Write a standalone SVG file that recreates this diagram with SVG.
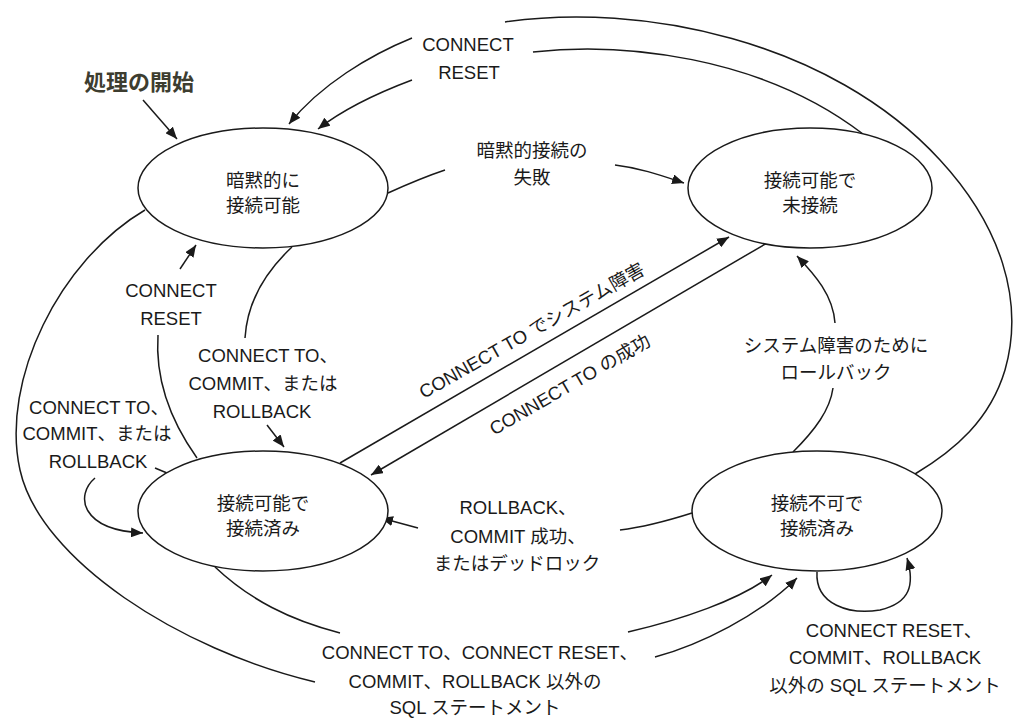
<svg xmlns="http://www.w3.org/2000/svg" width="1015" height="719" viewBox="0 0 1015 719">
<style>
.n{fill:#fff;stroke:#1a1a1a;stroke-width:1.5}
.c{fill:none;stroke:#1a1a1a;stroke-width:1.5}
text{font-family:"Liberation Sans","Noto Sans CJK JP",sans-serif;font-size:18.5px;fill:#1a1a1a;text-anchor:middle}
.s{font-size:22px;font-weight:bold;fill:#3d3d30;text-anchor:start}
</style>
<defs>
<marker id="a" viewBox="0 0 12 10" refX="12" refY="5" markerWidth="12" markerHeight="10" markerUnits="userSpaceOnUse" orient="auto"><path d="M0,0 L12,5 L0,10 z" fill="#1a1a1a"/></marker>
</defs>
<rect width="1015" height="719" fill="#fff"/>
<g id="connectors">
<path class="c" d="M143 100 L177 139" marker-end="url(#a)"/>
<path class="c" d="M505 22 C640 2 830 40 940 160 C1000 225 1025 300 1005 370 C990 420 955 450 915 474"/>
<path class="c" d="M412 38 C370 55 320 85 289 124" marker-end="url(#a)"/>
<path class="c" d="M533 52 C620 42 760 55 863 134"/>
<path class="c" d="M412 80 C380 92 345 108 318 129" marker-end="url(#a)"/>
<path class="c" d="M388 193 C410 183 430 175 445 170"/>
<path class="c" d="M615 165 C640 168 660 175 684 183" marker-end="url(#a)"/>
<path class="c" d="M145 210 C60 260 0 380 20 470 C40 560 180 650 315 682"/>
<path class="c" d="M655 657 C700 645 760 615 797 578" marker-end="url(#a)"/>
<path class="c" d="M215 567 C250 600 290 620 340 633"/>
<path class="c" d="M628 632 C680 620 740 600 772 575" marker-end="url(#a)"/>
<path class="c" d="M292 247 C262 275 247 305 245 338"/>
<path class="c" d="M267 425 L284 447" marker-end="url(#a)"/>
<path class="c" d="M197 458 C170 420 155 380 158 335"/>
<path class="c" d="M180 269 L196 245" marker-end="url(#a)"/>
<path class="c" d="M155 468 L167 473"/>
<path class="c" d="M95 478 C75 495 80 530 143 533" marker-end="url(#a)"/>
<path class="c" d="M692 513 C670 520 645 527 620 530"/>
<path class="c" d="M418 528 L381 518" marker-end="url(#a)"/>
<path class="c" d="M793 452 C815 430 830 410 833 388"/>
<path class="c" d="M835 323 C833 295 815 275 797 256" marker-end="url(#a)"/>
<path class="c" d="M817 572 C815 605 850 615 880 610 C910 603 915 585 907 558" marker-end="url(#a)"/>
<path class="c" d="M340 463 L729 237" marker-end="url(#a)"/>
<path class="c" d="M767 243 L371 475" marker-end="url(#a)"/>
</g>
<g id="start"><text class="s" x="84" y="90">処理の開始</text></g>
<g id="node-implicit">
<ellipse class="n" cx="263" cy="188" rx="125" ry="60"/>
<text x="263" y="187">暗黙的に</text>
<text x="263" y="212">接続可能</text>
</g>
<g id="node-unconnected">
<ellipse class="n" cx="810" cy="188" rx="122" ry="60"/>
<text x="810" y="187">接続可能で</text>
<text x="810" y="212">未接続</text>
</g>
<g id="node-connected">
<ellipse class="n" cx="263" cy="511" rx="125" ry="60"/>
<text x="263" y="510">接続可能で</text>
<text x="263" y="535">接続済み</text>
</g>
<g id="node-unconnectable">
<ellipse class="n" cx="817" cy="511" rx="125" ry="60"/>
<text x="817" y="510">接続不可で</text>
<text x="817" y="535">接続済み</text>
</g>
<g id="labels">
<text x="468" y="51">CONNECT</text>
<text x="469" y="79">RESET</text>
<text x="532" y="157">暗黙的接続の</text>
<text x="532" y="184">失敗</text>
<text x="171" y="297">CONNECT</text>
<text x="171" y="325">RESET</text>
<text x="268" y="362">CONNECT TO、</text>
<text x="263" y="390">COMMIT、または</text>
<text x="262" y="418">ROLLBACK</text>
<text x="99" y="414">CONNECT TO、</text>
<text x="97" y="440">COMMIT、または</text>
<text x="98" y="468">ROLLBACK</text>
<text x="836" y="352">システム障害のために</text>
<text x="836" y="379">ロールバック</text>
<text x="518" y="514">ROLLBACK、</text>
<text x="518" y="543">COMMIT 成功、</text>
<text x="517" y="570">またはデッドロック</text>
<text x="480" y="659">CONNECT TO、CONNECT RESET、</text>
<text x="475" y="688">COMMIT、ROLLBACK 以外の</text>
<text x="475" y="714">SQL ステートメント</text>
<text x="894" y="637">CONNECT RESET、</text>
<text x="885" y="664">COMMIT、ROLLBACK</text>
<text x="885" y="692">以外の SQL ステートメント</text>
<text transform="translate(532,331) rotate(-29.5)" x="0" y="6">CONNECT TO でシステム障害</text>
<text transform="translate(570,385) rotate(-30)" x="0" y="6">CONNECT TO の成功</text>
</g>
</svg>
